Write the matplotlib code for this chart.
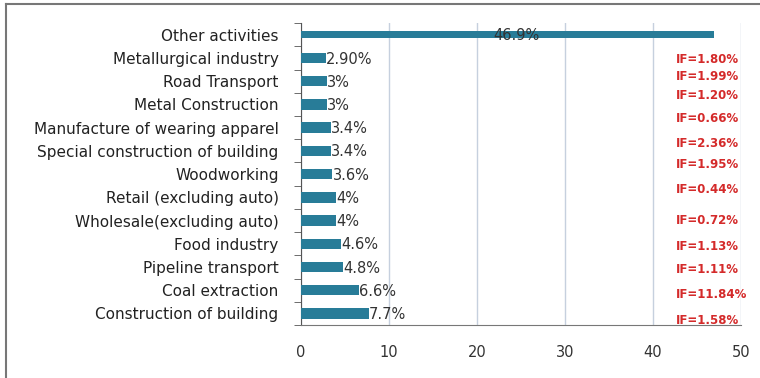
import numpy as np
import matplotlib.pyplot as plt
from matplotlib.lines import Line2D

# Sectors (top to bottom) with their share and IF values
sectors = ["Other activities", "Metallurgical industry", "Road Transport",
           "Metal Construction", "Manufacture of wearing apparel",
           "Special construction of building", "Woodworking",
           "Retail (excluding auto)", "Wholesale(excluding auto)",
           "Food industry", "Pipeline transport", "Coal extraction",
           "Construction of building"]
shares = [46.9, 2.9, 3, 3, 3.4, 3.4, 3.6, 4, 4, 4.6, 4.8, 6.6, 7.7]
share_labels = ["46.9%", "2.90%", "3%", "3%", "3.4%", "3.4%", "3.6%",
                "4%", "4%", "4.6%", "4.8%", "6.6%", "7.7%"]
if_labels = [None, "IF=1.80%", "IF=1.99%", "IF=1.20%", "IF=0.66%",
             "IF=2.36%", "IF=1.95%", "IF=0.44%", "IF=0.72%", "IF=1.13%",
             "IF=1.11%", "IF=11.84%", "IF=1.58%"]
# vertical nudge of the IF notes (in category units, + is down)
if_shift = [0, 0.05, -0.2, -0.4, -0.4, -0.33, -0.43, -0.35, 0.0,
            0.1, 0.1, 0.17, 0.3]

fig = plt.figure(figsize=(7.6, 3.78), dpi=100)
ax = fig.add_axes([0.3957, 0.140, 0.5795, 0.799])

y = np.arange(len(sectors))
heights = [0.32] + [0.45] * (len(sectors) - 1)
ax.barh(y, shares, height=heights, color="#287c98", zorder=3)

for yi, v, lab in zip(y, shares, share_labels):
    if yi == 0:
        ax.text(v / 2 + 1, yi + 0.05, lab, ha="center", va="center",
                fontsize=10.5, color="#333333", zorder=4)
    else:
        ax.text(v, yi + 0.05, lab, ha="left", va="center",
                fontsize=10.5, color="#333333", zorder=4)

for yi, lab, d in zip(y, if_labels, if_shift):
    if lab:
        ax.text(42.6, yi + d, lab, ha="left", va="center", fontsize=8.5,
                fontweight="bold", color="#d42a2a", zorder=4)

ax.set_xlim(0, 50)
ax.set_ylim(len(sectors) - 0.5, -0.5)
ax.set_xticks([0, 10, 20, 30, 40, 50])
ax.set_yticks(y)
ax.set_yticklabels(sectors, fontsize=11, color="#222222")
ax.set_yticks(np.arange(-0.5, len(sectors)), minor=True)
ax.tick_params(axis="y", which="major", length=0, pad=16)
ax.tick_params(axis="y", which="minor", length=5, color="#555555")
ax.tick_params(axis="x", length=0, pad=14, labelsize=10.5, labelcolor="#333333")

ax.grid(axis="x", color="#c6d0de", linewidth=1, zorder=0)
for s in ["top", "right"]:
    ax.spines[s].set_visible(False)
ax.spines["left"].set_color("#555555")
ax.spines["bottom"].set_color("#777777")

# outer frame (left and top edges)
fig.add_artist(Line2D([0.008, 0.008], [0, 0.99], color="#777777", lw=1.5))
fig.add_artist(Line2D([0.008, 1.0], [0.99, 0.99], color="#777777", lw=1.5))

plt.savefig("out.png", dpi=100)
